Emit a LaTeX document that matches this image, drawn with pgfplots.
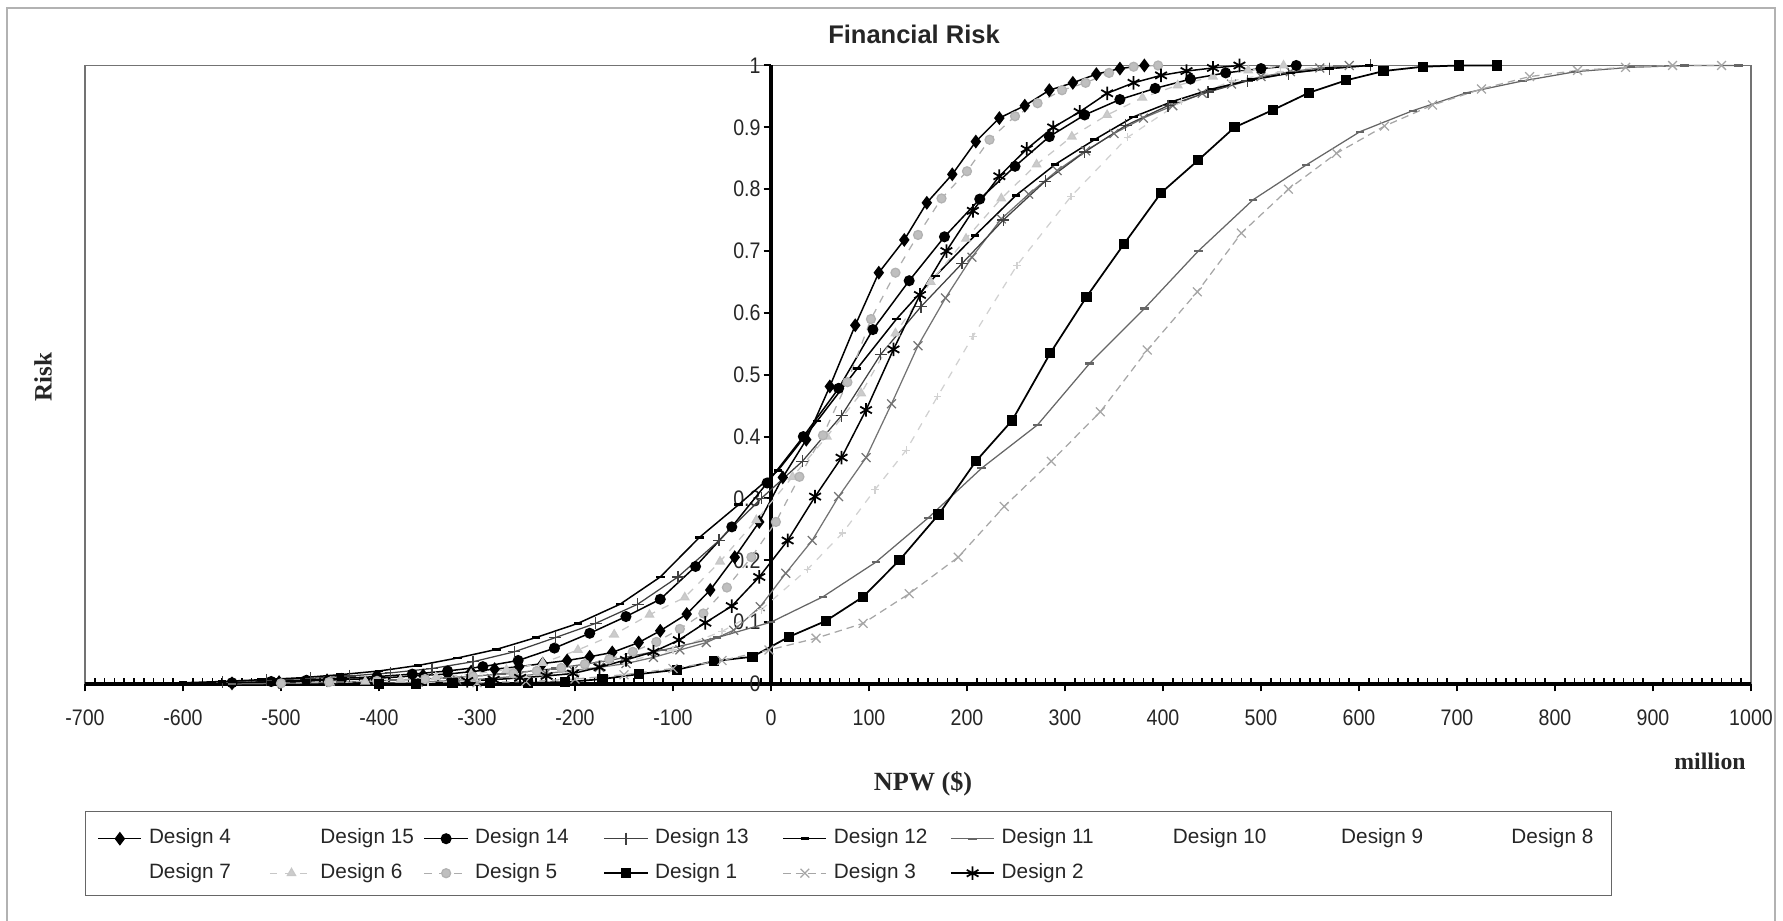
\documentclass[border=0pt]{standalone}
\usepackage{fontspec}
\usepackage{pgfplots}
\pgfplotsset{compat=1.18}
\setmainfont{Liberation Sans}
\newfontfamily\tickfont[FakeStretch=0.87]{Liberation Sans}
\newfontfamily\labelfont{Liberation Serif}
\newcommand{\lt}[2]{\makebox[#1][l]{#2}}
\pgfplotsset{
  sD4/.style={black, line width=0.6pt, mark=diamond*, mark size=2.3pt, mark options={solid, fill=black}},
  sD14/.style={black, line width=0.6pt, mark=*, mark size=1.9pt, mark options={solid, fill=black}},
  sD13/.style={black!75, line width=0.5pt, mark=+, mark size=2.4pt, mark options={solid}},
  sD12/.style={black, line width=0.6pt, mark=-, mark size=1.7pt, mark options={solid, line width=1pt}},
  sD11/.style={black!60, line width=0.5pt, mark=-, mark size=1.7pt, mark options={solid, line width=0.9pt}},
  sD6/.style={black!22, line width=0.5pt, dashed, mark=triangle*, mark size=1.9pt, mark options={solid, fill=black!20}},
  sD5/.style={black!32, line width=0.5pt, dashed, mark=*, mark size=1.8pt, mark options={solid, fill=black!25, draw=black!30}},
  sD1/.style={black, line width=0.7pt, mark=square*, mark size=1.7pt, mark options={solid, fill=black}},
  sD3/.style={black!35, line width=0.5pt, densely dashed, mark=x, mark size=2.5pt, mark options={solid}},
  sD2/.style={black, line width=0.6pt, mark=asterisk, mark size=2.7pt, mark options={solid, line width=0.7pt}},
  sF/.style={black!55, line width=0.5pt, mark=x, mark size=2.5pt, mark options={solid}},
  sJ/.style={black!18, line width=0.5pt, dashed, mark=+, mark size=1.5pt, mark options={solid}},
  blankimg/.style={legend image code/.code={\path[draw=none, fill=none] (0pt,2pt) -- (17.3pt,2pt);}},
}
\begin{document}
\begin{tikzpicture}
\useasboundingbox (0pt,0pt) rectangle (713.2pt,368.4pt);
\draw[black!30, line width=0.5pt] (2.8pt,0pt) -- (2.8pt,365.2pt) -- (710pt,365.2pt) -- (710pt,0pt);
\begin{axis}[
  at={(34pt,94.8pt)}, anchor=south west,
  scale only axis, width=666.4pt, height=247.4pt,
  xmin=-700, xmax=1000, ymin=0, ymax=1,
  enlargelimits=false, clip=false,
  axis background/.style={draw=black!55, line width=0.5pt},
  axis lines=middle,
  axis line style={-, line width=1.4pt, black},
  inner axis line style={-, line width=1.4pt, black},
  hide obscured x ticks=false, hide obscured y ticks=false,
  xtick={-700,-600,-500,-400,-300,-200,-100,0,100,200,300,400,500,600,700,800,900,1000},
  minor x tick num=9,
  ytick={0,0.1,0.2,0.3,0.4,0.5,0.6,0.7,0.8,0.9,1},
  major tick length=3pt, minor tick length=2.2pt,
  xtick align=inside, ytick align=outside,
  major x tick style={draw=none},
  minor x tick style={line width=0.6pt, black},
  major y tick style={line width=0.8pt, black},
  extra x ticks={-700,-600,-500,-400,-300,-200,-100,0,100,200,300,400,500,600,700,800,900,1000},
  extra x tick labels={},
  extra x tick style={xtick align=outside, major x tick style={draw=black, line width=0.8pt}},
  ticklabel style={font=\tickfont\fontsize{9}{10}\selectfont, text=black!85},
  /pgf/number format/assume math mode=true,
  /pgf/number format/1000 sep={},
  xticklabel style={anchor=base, yshift=-16.8pt, inner sep=0pt},
  yticklabel style={anchor=east, inner sep=0pt, xshift=-1pt},
  legend columns=9,
  legend style={at={(0,-0.2053)}, anchor=north west, draw=black!60, line width=0.4pt, fill=white,
    inner xsep=4.8pt, inner ysep=3pt,
    nodes={inner sep=0pt, anchor=base, text height=9.9pt, text depth=3.9pt, font=\fontsize{8.3}{10}\selectfont, text=black!85},
    /tikz/every odd column/.append style={column sep=2.7pt}},
  legend image code/.code={\draw[mark repeat=2, mark phase=2] plot coordinates {(0pt,2pt) (8.65pt,2pt) (17.3pt,2pt)};},
]
% unlabeled curves
\addplot[sF, forget plot] coordinates {(-400,0.001) (-360,0.003) (-320,0.006) (-285,0.009) (-257,0.013) (-230,0.017) (-202,0.022) (-175,0.027) (-148,0.033) (-120,0.043) (-93,0.055) (-66,0.067) (-38,0.087) (-11,0.125) (15,0.179) (42,0.232) (69,0.303) (97,0.366) (123,0.453) (150,0.547) (178,0.624) (205,0.69) (235,0.752) (263,0.792) (292,0.83) (321,0.862) (350,0.89) (380,0.915) (410,0.935) (440,0.955) (470,0.97) (500,0.982) (530,0.99) (560,0.996) (590,1.0)};
\addplot[sJ, forget plot] coordinates {(-350,0.002) (-300,0.005) (-250,0.01) (-200,0.02) (-150,0.035) (-100,0.055) (-50,0.085) (-10,0.12) (37,0.185) (73,0.244) (106,0.314) (138,0.378) (170,0.465) (206,0.562) (251,0.677) (306,0.788) (364,0.884) (419,0.942) (470,0.975) (520,0.99) (570,1.0)};
% Design 4
\addplot[sD4] coordinates {(-550,0.001) (-502,0.003) (-453,0.006) (-404,0.009) (-355,0.014) (-330,0.016) (-306,0.02) (-282,0.024) (-257,0.028) (-233,0.033) (-208,0.038) (-185,0.044) (-162,0.051) (-135,0.067) (-113,0.086) (-86,0.113) (-62,0.152) (-37,0.205) (-12,0.262) (12,0.334) (36,0.395) (60,0.481) (86,0.58) (110,0.665) (136,0.718) (159,0.778) (185,0.824) (209,0.877) (233,0.915) (259,0.935) (284,0.96) (308,0.972) (332,0.986) (356,0.995) (381,1.0)};
\addlegendentry{\lt{48.1pt}{Design 4}}
\addlegendimage{blankimg}
\addlegendentry{\lt{41.3pt}{Design 15}}
% Design 14
\addplot[sD14] coordinates {(-550,0.002) (-510,0.004) (-474,0.006) (-438,0.009) (-402,0.012) (-366,0.016) (-330,0.021) (-294,0.028) (-258,0.038) (-221,0.058) (-185,0.082) (-148,0.109) (-113,0.137) (-77,0.19) (-40,0.254) (-4,0.325) (33,0.4) (69,0.478) (104,0.573) (141,0.652) (177,0.723) (213,0.784) (249,0.837) (284,0.885) (320,0.92) (356,0.945) (392,0.963) (428,0.978) (464,0.988) (500,0.995) (536,1.0)};
\addlegendentry{\lt{51.3pt}{Design 14}}
% Design 13
\addplot[sD13] coordinates {(-560,0.003) (-515,0.006) (-470,0.009) (-430,0.013) (-388,0.018) (-346,0.025) (-304,0.036) (-262,0.052) (-220,0.075) (-179,0.098) (-136,0.129) (-95,0.173) (-53,0.232) (-10,0.3) (32,0.36) (72,0.434) (112,0.533) (153,0.61) (195,0.68) (237,0.75) (280,0.813) (320,0.86) (362,0.903) (405,0.935) (446,0.957) (486,0.975) (528,0.987) (570,0.995) (612,1.0)};
\addlegendentry{\lt{50.9pt}{Design 13}}
% Design 12
\addplot[sD12] coordinates {(-600,0.002) (-560,0.004) (-520,0.007) (-480,0.01) (-440,0.015) (-400,0.021) (-360,0.03) (-320,0.042) (-280,0.056) (-240,0.075) (-197,0.098) (-154,0.129) (-113,0.173) (-73,0.237) (-33,0.29) (7,0.345) (47,0.425) (88,0.51) (128,0.59) (168,0.66) (208,0.725) (250,0.79) (290,0.84) (330,0.88) (370,0.917) (410,0.942) (450,0.962) (490,0.977) (530,0.988) (570,0.995) (610,1.0)};
\addlegendentry{\lt{46.5pt}{Design 12}}
% Design 11
\addplot[sD11] coordinates {(-550,0.0) (-495,0.001) (-440,0.003) (-385,0.006) (-330,0.01) (-275,0.016) (-220,0.025) (-165,0.038) (-110,0.055) (-55,0.075) (0,0.1) (53,0.141) (107,0.197) (160,0.268) (215,0.349) (272,0.419) (325,0.518) (381,0.607) (436,0.7) (492,0.783) (546,0.839) (601,0.893) (655,0.927) (710,0.956) (767,0.975) (821,0.99) (877,0.997) (932,1.0) (987,1.0)};
\addlegendentry{\lt{48.5pt}{Design 11}}
\addlegendimage{blankimg}
\addlegendentry{\lt{47.3pt}{Design 10}}
\addlegendimage{blankimg}
\addlegendentry{\lt{48.1pt}{Design 9}}
\addlegendimage{blankimg}
\addlegendentry{\lt{35pt}{Design 8}}
\addlegendimage{blankimg}
\addlegendentry{\lt{48.1pt}{Design 7}}
% Design 6
\addplot[sD6] coordinates {(-450,0.002) (-414,0.004) (-378,0.007) (-342,0.011) (-306,0.016) (-270,0.023) (-233,0.034) (-197,0.055) (-160,0.08) (-124,0.112) (-88,0.14) (-52,0.198) (-15,0.265) (22,0.335) (57,0.4) (92,0.47) (127,0.567) (163,0.65) (199,0.72) (235,0.785) (271,0.84) (307,0.885) (343,0.92) (379,0.948) (415,0.968) (451,0.982) (487,0.992) (523,1.0)};
\addlegendentry{\lt{41.3pt}{Design 6}}
% Design 5
\addplot[sD5] coordinates {(-500,0.001) (-451,0.003) (-402,0.005) (-353,0.008) (-304,0.012) (-263,0.017) (-239,0.021) (-214,0.026) (-190,0.032) (-165,0.04) (-141,0.052) (-117,0.068) (-93,0.089) (-69,0.114) (-45,0.156) (-20,0.205) (5,0.262) (29,0.335) (53,0.402) (78,0.488) (102,0.59) (127,0.665) (150,0.726) (174,0.785) (200,0.829) (223,0.88) (249,0.918) (272,0.939) (297,0.96) (321,0.972) (345,0.988) (370,0.998) (395,1.0)};
\addlegendentry{\lt{51.3pt}{Design 5}}
% Design 1
\addplot[sD1] coordinates {(-400,0.0) (-362,0.0) (-325,0.001) (-287,0.001) (-248,0.002) (-210,0.003) (-172,0.008) (-135,0.016) (-96,0.023) (-58,0.037) (-19,0.044) (18,0.076) (56,0.102) (94,0.141) (131,0.2) (171,0.274) (209,0.36) (246,0.426) (285,0.535) (322,0.626) (360,0.711) (398,0.794) (436,0.847) (473,0.9) (512,0.928) (549,0.956) (587,0.976) (625,0.991) (665,0.998) (702,1.0) (741,1.0)};
\addlegendentry{\lt{50.9pt}{Design 1}}
% Design 3
\addplot[sD3] coordinates {(-300,0.002) (-250,0.004) (-200,0.008) (-150,0.015) (-100,0.025) (-50,0.038) (-2,0.055) (46,0.074) (94,0.098) (141,0.146) (191,0.205) (238,0.287) (286,0.36) (336,0.44) (384,0.54) (435,0.634) (480,0.729) (528,0.8) (577,0.858) (626,0.902) (675,0.936) (725,0.962) (774,0.982) (823,0.992) (872,0.997) (920,1.0) (970,1.0)};
\addlegendentry{\lt{46.5pt}{Design 3}}
% Design 2
\addplot[sD2] coordinates {(-310,0.005) (-283,0.007) (-256,0.01) (-229,0.013) (-202,0.017) (-175,0.027) (-148,0.039) (-120,0.052) (-94,0.071) (-67,0.099) (-40,0.126) (-12,0.173) (17,0.232) (45,0.303) (72,0.366) (97,0.443) (125,0.541) (152,0.629) (179,0.7) (206,0.765) (233,0.821) (261,0.865) (288,0.9) (315,0.925) (343,0.955) (370,0.972) (398,0.984) (424,0.991) (451,0.996) (478,1.0)};
\addlegendentry{\lt{48.5pt}{Design 2}}
\end{axis}
\node[font=\bfseries\fontsize{10.2}{12}\selectfont, anchor=base, text=black!85] at (365.6pt,351.1pt) {Financial Risk};
\node[font=\labelfont\bfseries\fontsize{10.5}{12}\selectfont, anchor=base, text=black!85] at (369.2pt,52pt) {NPW (\$)};
\node[font=\labelfont\bfseries\fontsize{9.5}{11}\selectfont, anchor=base, text=black!85] at (684pt,60.4pt) {million};
\node[font=\labelfont\bfseries\fontsize{10}{12}\selectfont, rotate=90, text=black!85] at (17.2pt,217.6pt) {Risk};
\end{tikzpicture}
\end{document}
